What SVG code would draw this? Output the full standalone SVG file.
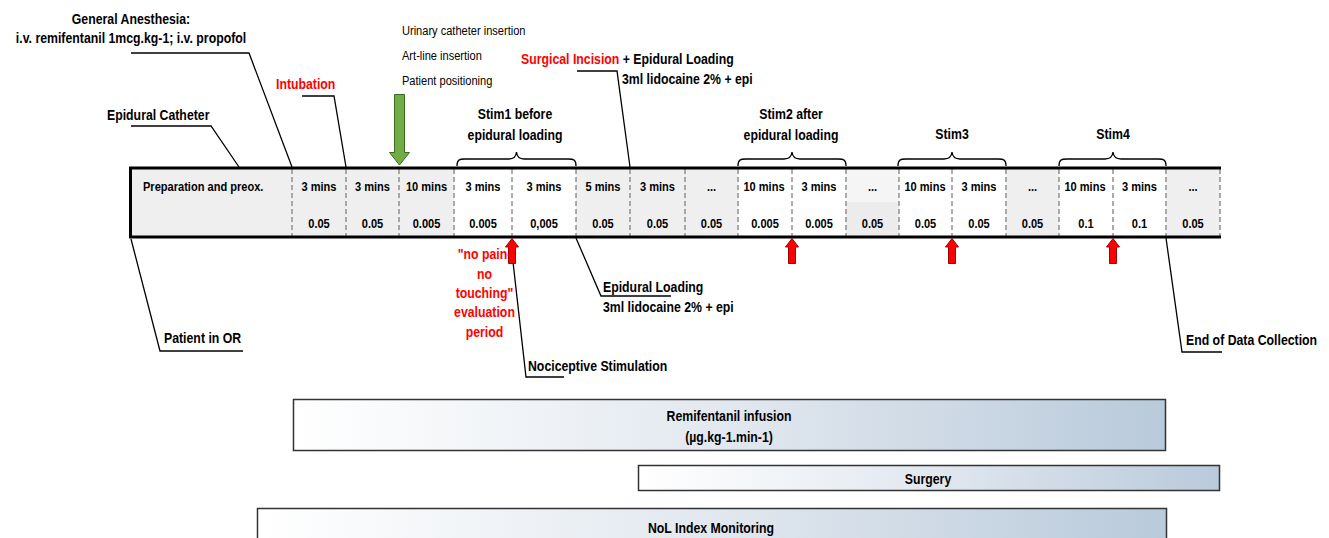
<svg xmlns="http://www.w3.org/2000/svg" width="1329" height="538" viewBox="0 0 1329 538">
<defs>
<linearGradient id="barGrad" x1="0" y1="0" x2="1" y2="0">
<stop offset="0" stop-color="#ffffff"/>
<stop offset="0.5" stop-color="#e2e8ef"/>
<stop offset="1" stop-color="#b9cadb"/>
</linearGradient>
<style>
text{font-family:"Liberation Sans",Arial,sans-serif;fill:#000;}
.b{font-weight:bold;font-size:15px;}
.c{font-weight:bold;font-size:13.5px;text-anchor:middle;}
.r{font-size:13.5px;}
.red{fill:#ff0000;}
.m{text-anchor:middle;}
.lead{fill:none;stroke:#000;stroke-width:1.3;}
.brace{fill:none;stroke:#000;stroke-width:1.3;}
.dash{stroke:#808080;stroke-width:1.3;stroke-dasharray:5 3;}
.gray{fill:#efefef;}
.white{fill:#ffffff;}
.bar{fill:url(#barGrad);stroke:#333;stroke-width:1.5;}
.redarrow{fill:#ff0000;stroke:#a00000;stroke-width:1;}
</style>
</defs>
<rect width="1329" height="538" fill="#fff"/>

<g id="timeline">
<rect class="gray" x="130" y="168" width="324" height="69"/>
<rect class="white" x="454" y="168" width="122" height="69"/>
<rect class="gray" x="576" y="168" width="162" height="69"/>
<rect class="white" x="738" y="168" width="108" height="69"/>
<rect fill="#f5f5f5" x="846" y="168" width="53" height="34"/>
<rect fill="#ececec" x="846" y="202" width="53" height="35"/>
<rect class="white" x="899" y="168" width="107" height="69"/>
<rect class="gray" x="1006" y="168" width="53" height="69"/>
<rect class="white" x="1059" y="168" width="107" height="69"/>
<rect class="gray" x="1166" y="168" width="54" height="69"/>
<g class="dash">
<line x1="292" y1="169" x2="292" y2="236"/>
<line x1="346" y1="169" x2="346" y2="236"/>
<line x1="399" y1="169" x2="399" y2="236"/>
<line x1="454" y1="169" x2="454" y2="236"/>
<line x1="512" y1="169" x2="512" y2="236"/>
<line x1="576" y1="169" x2="576" y2="236"/>
<line x1="630" y1="169" x2="630" y2="236"/>
<line x1="685" y1="169" x2="685" y2="236"/>
<line x1="738" y1="169" x2="738" y2="236"/>
<line x1="792" y1="169" x2="792" y2="236"/>
<line x1="846" y1="169" x2="846" y2="236"/>
<line x1="899" y1="169" x2="899" y2="236"/>
<line x1="952" y1="169" x2="952" y2="236"/>
<line x1="1006" y1="169" x2="1006" y2="236"/>
<line x1="1059" y1="169" x2="1059" y2="236"/>
<line x1="1113" y1="169" x2="1113" y2="236"/>
<line x1="1166" y1="169" x2="1166" y2="236"/>
<line x1="1220" y1="169" x2="1220" y2="236"/>
</g>
<line x1="129" y1="168" x2="1221" y2="168" stroke="#000" stroke-width="3"/>
<line x1="129" y1="237" x2="1221" y2="237" stroke="#000" stroke-width="3"/>
<line x1="130.5" y1="167" x2="130.5" y2="238" stroke="#000" stroke-width="3"/>
<text style="font-weight:bold;font-size:13.5px" transform="translate(143,191) scale(0.82,1)">Preparation and preox.</text>
<g class="c">
<text transform="translate(319,191) scale(0.82,1)">3 mins</text><text transform="translate(319,228) scale(0.82,1)">0.05</text>
<text transform="translate(372.5,191) scale(0.82,1)">3 mins</text><text transform="translate(372.5,228) scale(0.82,1)">0.05</text>
<text transform="translate(426.5,191) scale(0.82,1)">10 mins</text><text transform="translate(426.5,228) scale(0.82,1)">0.005</text>
<text transform="translate(483,191) scale(0.82,1)">3 mins</text><text transform="translate(483,228) scale(0.82,1)">0.005</text>
<text transform="translate(544,191) scale(0.82,1)">3 mins</text><text transform="translate(544,228) scale(0.82,1)">0,005</text>
<text transform="translate(603,191) scale(0.82,1)">5 mins</text><text transform="translate(603,228) scale(0.82,1)">0.05</text>
<text transform="translate(657.5,191) scale(0.82,1)">3 mins</text><text transform="translate(657.5,228) scale(0.82,1)">0.05</text>
<text transform="translate(711.5,191) scale(0.82,1)">...</text><text transform="translate(711.5,228) scale(0.82,1)">0.05</text>
<text transform="translate(764,191) scale(0.82,1)">10 mins</text><text transform="translate(765,228) scale(0.82,1)">0.005</text>
<text transform="translate(819,191) scale(0.82,1)">3 mins</text><text transform="translate(819,228) scale(0.82,1)">0.005</text>
<text transform="translate(872.5,191) scale(0.82,1)">...</text><text transform="translate(872.5,228) scale(0.82,1)">0.05</text>
<text transform="translate(925,191) scale(0.82,1)">10 mins</text><text transform="translate(925.5,228) scale(0.82,1)">0.05</text>
<text transform="translate(979,191) scale(0.82,1)">3 mins</text><text transform="translate(979,228) scale(0.82,1)">0.05</text>
<text transform="translate(1032.5,191) scale(0.82,1)">...</text><text transform="translate(1032.5,228) scale(0.82,1)">0.05</text>
<text transform="translate(1085,191) scale(0.82,1)">10 mins</text><text transform="translate(1086,228) scale(0.82,1)">0.1</text>
<text transform="translate(1139.5,191) scale(0.82,1)">3 mins</text><text transform="translate(1139.5,228) scale(0.82,1)">0.1</text>
<text transform="translate(1193,191) scale(0.82,1)">...</text><text transform="translate(1193,228) scale(0.82,1)">0.05</text>
</g>
</g>

<g id="connectors">
<polyline class="lead" points="131,53 249,53 292,167"/>
<polyline class="lead" points="302,96 334,96 346,167"/>
<polyline class="lead" points="131,126 211,126 239,167"/>
<polyline class="lead" points="577,71 617,71 630,167"/>
<polyline class="lead" points="131,239 160,351 243,351"/>
<polyline class="lead" points="513,262 526,377 564,377"/>
<polyline class="lead" points="576,238 601,296 671,296"/>
<polyline class="lead" points="1166,238 1182,352 1222,352"/>
<path class="brace" d="M457,166 C457,160 459,159 465,159 L509,159 C514,159 516,157 516.5,152 C517,157 519,159 524,159 L568,159 C574,159 576,160 576,166"/>
<path class="brace" d="M738,166 C738,160 740,159 746,159 L784,159 C789,159 791.5,157 792,152 C792.5,157 795,159 800,159 L838,159 C844,159 846,160 846,166"/>
<path class="brace" d="M898,166 C898,160 900,159 906,159 L944,159 C949,159 951.5,157 952,152 C952.5,157 955,159 960,159 L998,159 C1004,159 1006,160 1006,166"/>
<path class="brace" d="M1059,166 C1059,160 1061,159 1067,159 L1105,159 C1110,159 1112.5,157 1113,152 C1113.5,157 1116,159 1121,159 L1158,159 C1164,159 1166,160 1166,166"/>
</g>

<g id="green-arrow">
<polygon points="394.5,94.5 404.5,94.5 404.5,152.5 409.5,152.5 399.5,165 389.5,152.5 394.5,152.5" fill="#70ad47" stroke="#3b6b22" stroke-width="1"/>
</g>

<g id="red-arrows">
<polygon class="redarrow" points="512,238.5 518.5,247 515.5,247 515.5,263.5 508.5,263.5 508.5,247 505.5,247"/>
<polygon class="redarrow" points="792,238.5 798.5,247 795.5,247 795.5,263.5 788.5,263.5 788.5,247 785.5,247"/>
<polygon class="redarrow" points="952,238.5 958.5,247 955.5,247 955.5,263.5 948.5,263.5 948.5,247 945.5,247"/>
<polygon class="redarrow" points="1113,238.5 1119.5,247 1116.5,247 1116.5,263.5 1109.5,263.5 1109.5,247 1106.5,247"/>
</g>

<g id="general-anesthesia">
<text class="b m" transform="translate(131,24) scale(0.82,1)">General Anesthesia:</text>
<text class="b m" transform="translate(131,43) scale(0.82,1)">i.v. remifentanil 1mcg.kg-1; i.v. propofol</text>
</g>
<g id="intubation"><text class="b red" transform="translate(276,89) scale(0.82,1)">Intubation</text></g>
<g id="epidural-catheter"><text class="b" transform="translate(107,120) scale(0.82,1)">Epidural Catheter</text></g>
<g id="procedures">
<text class="r" transform="translate(402,35) scale(0.82,1)">Urinary catheter insertion</text>
<text class="r" transform="translate(402,60) scale(0.82,1)">Art-line insertion</text>
<text class="r" transform="translate(402,85) scale(0.82,1)">Patient positioning</text>
</g>
<g id="surgical-incision">
<text class="b" transform="translate(521,64) scale(0.82,1)"><tspan class="red">Surgical Incision</tspan> + Epidural Loading</text>
<text class="b" transform="translate(622,84) scale(0.82,1)">3ml lidocaine 2% + epi</text>
</g>
<g id="stim1">
<text class="b m" transform="translate(515,119) scale(0.82,1)">Stim1 before</text>
<text class="b m" transform="translate(515,140) scale(0.82,1)">epidural loading</text>
</g>
<g id="stim2">
<text class="b m" transform="translate(791,119) scale(0.82,1)">Stim2 after</text>
<text class="b m" transform="translate(791,140) scale(0.82,1)">epidural loading</text>
</g>
<g id="stim3"><text class="b m" transform="translate(952,139) scale(0.82,1)">Stim3</text></g>
<g id="stim4"><text class="b m" transform="translate(1113,139) scale(0.82,1)">Stim4</text></g>

<g id="no-pain">
<text class="b m red" transform="translate(484.5,259) scale(0.82,1)">"no pain-</text>
<text class="b m red" transform="translate(484.5,278.5) scale(0.82,1)">no</text>
<text class="b m red" transform="translate(484.5,297.5) scale(0.82,1)">touching"</text>
<text class="b m red" transform="translate(484.5,317) scale(0.82,1)">evaluation</text>
<text class="b m red" transform="translate(484.5,336.5) scale(0.82,1)">period</text>
</g>
<g id="patient-in-or"><text class="b" transform="translate(164,343) scale(0.82,1)">Patient in OR</text></g>
<g id="nociceptive"><text class="b" transform="translate(528,371) scale(0.82,1)">Nociceptive Stimulation</text></g>
<g id="epidural-loading">
<text class="b" transform="translate(603,292) scale(0.82,1)">Epidural Loading</text>
<text class="b" transform="translate(603,312) scale(0.82,1)">3ml lidocaine 2% + epi</text>
</g>
<g id="end-of-data"><text class="b" transform="translate(1186,345) scale(0.82,1)">End of Data Collection</text></g>

<g id="remifentanil-bar">
<rect class="bar" x="293.5" y="399.5" width="872" height="51"/>
<text class="b m" transform="translate(729,421) scale(0.82,1)">Remifentanil infusion</text>
<text class="b m" transform="translate(729,442) scale(0.82,1)">(µg.kg-1.min-1)</text>
</g>
<g id="surgery-bar">
<rect class="bar" x="638.5" y="465.5" width="581" height="25"/>
<text class="b m" transform="translate(928,484) scale(0.82,1)">Surgery</text>
</g>
<g id="nol-bar">
<rect class="bar" x="257.5" y="508.5" width="909" height="40"/>
<text class="b m" transform="translate(711,533) scale(0.82,1)">NoL Index Monitoring</text>
</g>
</svg>
